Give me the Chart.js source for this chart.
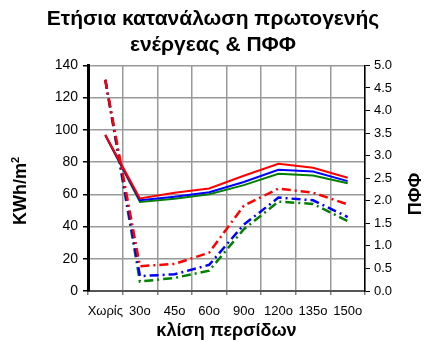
<!DOCTYPE html>
<html>
<head>
<meta charset="utf-8">
<script src="https://cdn.jsdelivr.net/npm/chart.js@4"></script>
<style>
    html, body { margin: 0; padding: 0; background: #fff; }
    #wrap { width: 426px; height: 342px; position: relative; }
</style>
</head>
<body>
<div id="wrap"><canvas id="energyChart"></canvas></div>
<script>
// ============================================
// DATA
// ============================================
const titleLines = ['Ετήσια κατανάλωση πρωτογενής', 'ενέργεας & ΠΦΦ'];
const categories = ['Χωρίς', '30o', '45o', '60o', '90o', '120o', '135o', '150o'];

// primary energy (KWh/m2), left axis
const energyRed   = [97.0, 57.4, 61.0, 63.6, 71.5, 79.0, 76.5, 70.3];
const energyBlue  = [96.6, 56.3, 58.5, 61.3, 67.6, 75.2, 74.2, 68.2];
const energyGreen = [96.6, 55.3, 57.3, 60.1, 65.7, 72.7, 71.7, 66.9];

// ΠΦΦ, right axis
const ppfRed   = [4.68, 0.55, 0.60, 0.85, 1.89, 2.27, 2.18, 1.92];
const ppfBlue  = [4.68, 0.33, 0.37, 0.58, 1.47, 2.07, 2.01, 1.64];
const ppfGreen = [4.68, 0.21, 0.29, 0.45, 1.37, 1.98, 1.93, 1.55];

const leftTicks = { min: 0, max: 140, step: 20 };
const rightTicks = { min: 0, max: 5, step: 0.5 };

const RED = '#ff0000';
const BLUE = '#0000ff';
const GREEN = '#008000';
const DASH_DOT = [9, 4, 2, 4];
const FONT = 'Arial, "Liberation Sans", sans-serif';

Chart.defaults.font.family = FONT;
Chart.defaults.color = '#000';

// rotated axis titles (both read bottom-to-top)
const axisTitles = {
    id: 'axisTitles',
    afterDraw(chart) {
        const ctx = chart.ctx;
        ctx.save();
        ctx.fillStyle = '#000';
        ctx.textBaseline = 'alphabetic';
        ctx.textAlign = 'left';

        // left: KWh/m²
        ctx.save();
        ctx.translate(26, 191);
        ctx.rotate(-Math.PI / 2);
        ctx.font = 'bold 18px ' + FONT;
        const w1 = ctx.measureText('KWh/m').width;
        ctx.font = 'bold 11px ' + FONT;
        const w2 = ctx.measureText('2').width;
        const x0 = -(w1 + w2) / 2;
        ctx.font = 'bold 18px ' + FONT;
        ctx.fillText('KWh/m', x0, 0);
        ctx.font = 'bold 11px ' + FONT;
        ctx.fillText('2', x0 + w1, -7);
        ctx.restore();

        // right: ΠΦΦ
        ctx.save();
        ctx.translate(421, 194);
        ctx.rotate(-Math.PI / 2);
        ctx.font = 'bold 18px ' + FONT;
        ctx.textAlign = 'center';
        ctx.fillText('ΠΦΦ', 0, 0);
        ctx.restore();

        ctx.restore();
    }
};

function makeLine(label, data, color, axis, dashed) {
    return {
        label: label,
        data: data,
        yAxisID: axis,
        borderColor: color,
        backgroundColor: color,
        borderWidth: dashed ? 2.5 : 2,
        borderDash: dashed ? DASH_DOT : [],
        pointRadius: 0,
        pointHoverRadius: 0,
        tension: 0,
        fill: false
    };
}

const ctx = document.getElementById('energyChart').getContext('2d');
new Chart(ctx, {
    type: 'line',
    data: {
        labels: categories,
        datasets: [
            makeLine('energy red', energyRed, RED, 'y', false),
            makeLine('ppf red', ppfRed, RED, 'y1', true),
            makeLine('energy blue', energyBlue, BLUE, 'y', false),
            makeLine('ppf blue', ppfBlue, BLUE, 'y1', true),
            makeLine('energy green', energyGreen, GREEN, 'y', false),
            makeLine('ppf green', ppfGreen, GREEN, 'y1', true)
        ]
    },
    options: {
        responsive: true,
        maintainAspectRatio: false,
        animation: false,
        layout: { padding: 0 },
        plugins: {
            legend: { display: false },
            tooltip: { enabled: false },
            title: {
                display: true,
                text: titleLines,
                color: '#000',
                font: { size: 21, weight: 'bold', lineHeight: 1.2 },
                padding: { top: 7, bottom: 8 }
            }
        },
        scales: {
            x: {
                offset: true,
                grid: {
                    offset: true,
                    color: '#999',
                    lineWidth: 1.5,
                    tickColor: '#808080',
                    tickLength: 4
                },
                border: { color: '#555', width: 2 },
                ticks: {
                    font: { size: 13 },
                    padding: 9,
                    maxRotation: 0,
                    autoSkip: false
                },
                title: {
                    display: true,
                    text: 'κλίση περσίδων',
                    font: { size: 18, weight: 'bold' },
                    padding: { top: 0, bottom: 0 }
                },
                afterFit(scale) { scale.height = 51; }
            },
            y: {
                position: 'left',
                min: leftTicks.min,
                max: leftTicks.max,
                ticks: { stepSize: leftTicks.step, font: { size: 14 }, padding: 5 },
                grid: {
                    color: '#999',
                    lineWidth: 1.5,
                    tickColor: '#000',
                    tickLength: 5
                },
                border: { color: '#000', width: 3 },
                afterFit(scale) { scale.width = 88; }
            },
            y1: {
                position: 'right',
                min: rightTicks.min,
                max: rightTicks.max,
                ticks: {
                    stepSize: rightTicks.step,
                    font: { size: 13 },
                    padding: 4,
                    callback: v => Number(v).toFixed(1)
                },
                grid: {
                    drawOnChartArea: false,
                    tickColor: '#000',
                    tickLength: 5
                },
                border: { color: '#000', width: 1.5 },
                afterFit(scale) { scale.width = 61; }
            }
        }
    },
    plugins: [axisTitles]
});
</script>
</body>
</html>
